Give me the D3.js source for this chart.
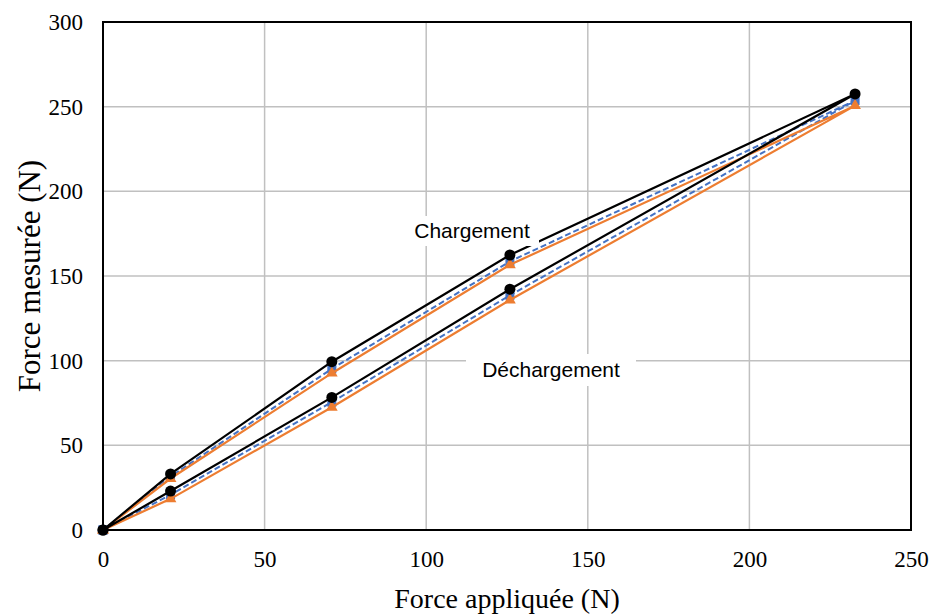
<!DOCTYPE html>
<html>
<head>
<meta charset="utf-8">
<script src="https://cdn.jsdelivr.net/npm/d3@7"></script>
<style>
  body { margin: 0; background: #fff; }
</style>
</head>
<body>
<div id="chart"></div>
<script>
// applied force at each step of the loading / unloading cycle
const applied = [0, 20.9, 70.8, 125.9, 232.7, 125.9, 70.8, 20.9, 0];
// measured force, three sensors
const measuredBlack = [0, 33.1, 99.4, 162.4, 257.5, 142.2, 78.3, 23.0, 0];
const measuredBlue = [0, 31.6, 95.2, 158.6, 253.6, 138.6, 75.5, 20.8, 0];
const measuredOrange = [0, 30.4, 92.6, 156.6, 250.6, 135.8, 72.5, 18.4, 0];

const xTicks = [0, 50, 100, 150, 200, 250];
const yTicks = [0, 50, 100, 150, 200, 250, 300];

const WIDTH = 932;
const HEIGHT = 615;
const MARGIN = { top: 22, right: 21, bottom: 85, left: 103 };

const svg = d3
  .select("#chart")
  .append("svg")
  .attr("width", WIDTH)
  .attr("height", HEIGHT);

const xScale = d3
  .scaleLinear()
  .domain([0, 250])
  .range([MARGIN.left, WIDTH - MARGIN.right]);

const yScale = d3
  .scaleLinear()
  .domain([0, 300])
  .range([HEIGHT - MARGIN.bottom, MARGIN.top]);

// grid
svg
  .append("g")
  .selectAll("line")
  .data(xTicks.slice(1, -1))
  .join("line")
  .attr("x1", (d) => xScale(d))
  .attr("x2", (d) => xScale(d))
  .attr("y1", yScale(0))
  .attr("y2", yScale(300))
  .attr("stroke", "#c0c0c0")
  .attr("stroke-width", 1.5);

svg
  .append("g")
  .selectAll("line")
  .data(yTicks.slice(1, -1))
  .join("line")
  .attr("x1", xScale(0))
  .attr("x2", xScale(250))
  .attr("y1", (d) => yScale(d))
  .attr("y2", (d) => yScale(d))
  .attr("stroke", "#c0c0c0")
  .attr("stroke-width", 1.5);

// axes (labels only, frame drawn separately)
const xAxis = svg
  .append("g")
  .attr("transform", `translate(0, ${yScale(0)})`)
  .call(d3.axisBottom(xScale).tickValues(xTicks).tickSize(0).tickPadding(21));
const yAxis = svg
  .append("g")
  .attr("transform", `translate(${xScale(0)}, 0)`)
  .call(d3.axisLeft(yScale).tickValues(yTicks).tickSize(0).tickPadding(20));

[xAxis, yAxis].forEach((ax) => {
  ax.select(".domain").remove();
  ax.attr("font-family", "'Liberation Serif', 'Times New Roman', serif")
    .attr("font-size", 23);
  ax.selectAll("text").attr("fill", "#000");
});

const points = (ys) => applied.map((x, i) => [x, ys[i]]);
const line = d3
  .line()
  .x((d) => xScale(d[0]))
  .y((d) => yScale(d[1]));

// blue dashed series with squares
svg
  .append("path")
  .datum(points(measuredBlue))
  .attr("d", line)
  .attr("fill", "none")
  .attr("stroke", "#4472c4")
  .attr("stroke-width", 2)
  .attr("stroke-dasharray", "6,3");
svg
  .append("g")
  .selectAll("rect")
  .data(points(measuredBlue))
  .join("rect")
  .attr("x", (d) => xScale(d[0]) - 4.5)
  .attr("y", (d) => yScale(d[1]) - 4.5)
  .attr("width", 9)
  .attr("height", 9)
  .attr("fill", "#4472c4");

// orange series with triangles
svg
  .append("path")
  .datum(points(measuredOrange))
  .attr("d", line)
  .attr("fill", "none")
  .attr("stroke", "#ed7d31")
  .attr("stroke-width", 2.2);
const tri = d3.symbol().type(d3.symbolTriangle).size(60);
svg
  .append("g")
  .selectAll("path")
  .data(points(measuredOrange))
  .join("path")
  .attr("d", tri)
  .attr("transform", (d) => `translate(${xScale(d[0])}, ${yScale(d[1])})`)
  .attr("fill", "#ed7d31");

// black series with circles
svg
  .append("path")
  .datum(points(measuredBlack))
  .attr("d", line)
  .attr("fill", "none")
  .attr("stroke", "#000")
  .attr("stroke-width", 2.2);
svg
  .append("g")
  .selectAll("circle")
  .data(points(measuredBlack))
  .join("circle")
  .attr("cx", (d) => xScale(d[0]))
  .attr("cy", (d) => yScale(d[1]))
  .attr("r", 5.5)
  .attr("fill", "#000");

// annotations with white boxes
function addLabel(text, cx, cy, boxW, boxH) {
  svg
    .append("rect")
    .attr("x", cx - boxW / 2)
    .attr("y", cy - boxH / 2)
    .attr("width", boxW)
    .attr("height", boxH)
    .attr("fill", "#fff");
  svg
    .append("text")
    .attr("x", cx)
    .attr("y", cy)
    .attr("dy", "0.35em")
    .attr("text-anchor", "middle")
    .attr("font-family", "'Liberation Sans', Arial, sans-serif")
    .attr("font-size", "21px")
    .attr("fill", "#000")
    .text(text);
}
addLabel("Chargement", 472, 231, 134, 30);
addLabel("Déchargement", 551, 370, 170, 32);

// frame
svg
  .append("rect")
  .attr("x", xScale(0))
  .attr("y", yScale(300))
  .attr("width", xScale(250) - xScale(0))
  .attr("height", yScale(0) - yScale(300))
  .attr("fill", "none")
  .attr("stroke", "#000")
  .attr("stroke-width", 2);

// axis titles
svg
  .append("text")
  .attr("x", (xScale(0) + xScale(250)) / 2)
  .attr("y", 608)
  .attr("text-anchor", "middle")
  .attr("font-family", "'Liberation Serif', 'Times New Roman', serif")
  .attr("font-size", "28px")
  .text("Force appliquée (N)");

svg
  .append("text")
  .attr("transform", `translate(40, ${(yScale(0) + yScale(300)) / 2}) rotate(-90)`)
  .attr("text-anchor", "middle")
  .attr("font-family", "'Liberation Serif', 'Times New Roman', serif")
  .attr("font-size", "31px")
  .text("Force mesurée (N)");
</script>
</body>
</html>
